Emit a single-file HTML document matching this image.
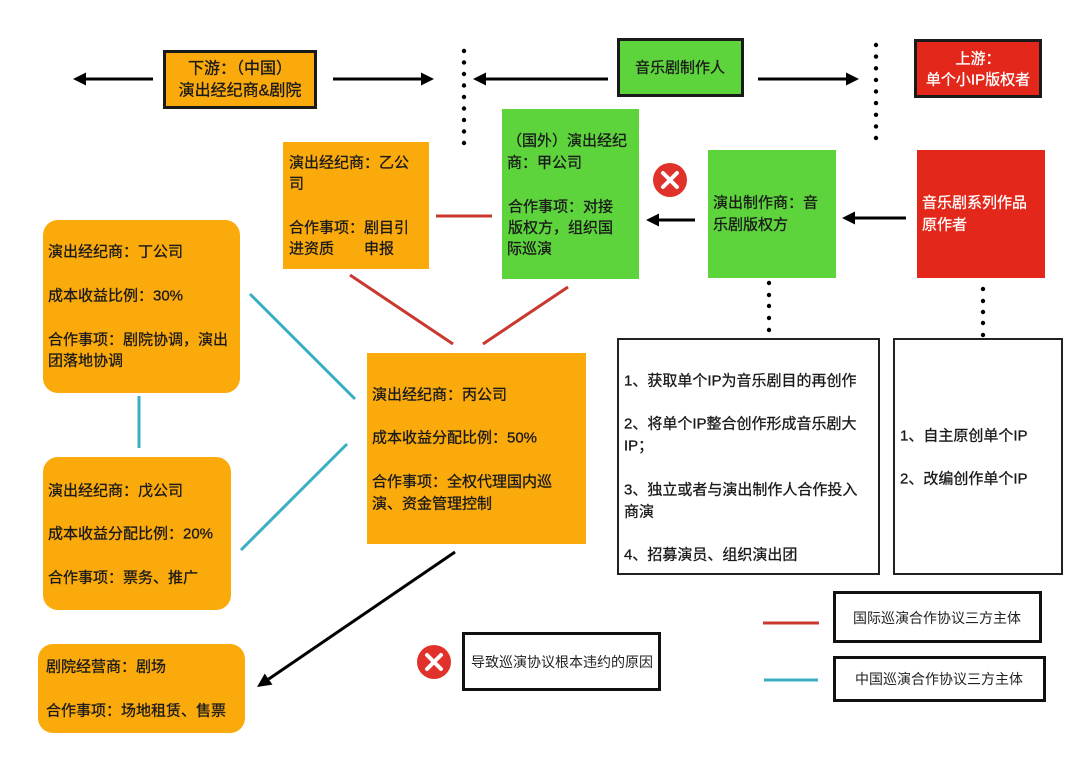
<!DOCTYPE html>
<html><head><meta charset="utf-8"><style>
html,body{margin:0;padding:0;background:#fff;}
svg{display:block;}
text{font-family:"Liberation Sans","Noto Sans CJK SC",sans-serif;font-size:15px;fill:#1a1a1a;stroke:#1a1a1a;stroke-width:0.3px;dominant-baseline:central;}
.w{fill:#fff;stroke:#fff;}
.s{font-size:14px;fill:#222;stroke:none;}
</style></head><body>
<svg width="1080" height="763" viewBox="0 0 1080 763" xmlns="http://www.w3.org/2000/svg">
<rect width="1080" height="763" fill="#fff"/>

<!-- top row boxes -->
<rect x="164.5" y="51.5" width="151" height="56" fill="#FBAA0C" stroke="#1a1a1a" stroke-width="3"/>
<text x="240" y="69" text-anchor="middle" style="font-size:16px">下游：（中国）</text>
<text x="240" y="91" text-anchor="middle" style="font-size:16px">演出经纪商&amp;剧院</text>

<rect x="618.5" y="39.5" width="124" height="56" fill="#5DD43C" stroke="#1a1a1a" stroke-width="3"/>
<text x="680" y="68" text-anchor="middle">音乐剧制作人</text>

<rect x="915.5" y="40.5" width="125" height="56" fill="#E3281B" stroke="#1a1a1a" stroke-width="3"/>
<text x="978" y="59" text-anchor="middle" class="w">上游：</text>
<text x="978" y="80" text-anchor="middle" class="w">单个小IP版权者</text>

<!-- arrows -->
<g stroke="#000" stroke-width="3">
<line x1="153" y1="79" x2="82" y2="79"/>
<line x1="333" y1="79" x2="424" y2="79"/>
<line x1="608" y1="79" x2="483" y2="79"/>
<line x1="758" y1="79" x2="849" y2="79"/>
<line x1="695" y1="220" x2="656" y2="220"/>
<line x1="906" y1="218" x2="852" y2="218"/>
<line x1="455" y1="552" x2="268.6" y2="679.1"/>
</g>
<g fill="#000">
<polygon points="73,79 86,72.5 86,85.5"/>
<polygon points="434,79 421,72.5 421,85.5"/>
<polygon points="473,79 486,72.5 486,85.5"/>
<polygon points="859,79 846,72.5 846,85.5"/>
<polygon points="646,220 659,213.5 659,226.5"/>
<polygon points="842,218 855,211.5 855,224.5"/>
<polygon points="257,687 272.5,684.6 264.7,673.6"/>
</g>

<!-- dotted separators -->
<g fill="#000">
<circle cx="464" cy="51" r="2.2"/><circle cx="464" cy="62.5" r="2.2"/><circle cx="464" cy="74" r="2.2"/><circle cx="464" cy="85.5" r="2.2"/><circle cx="464" cy="97" r="2.2"/><circle cx="464" cy="108.5" r="2.2"/><circle cx="464" cy="120" r="2.2"/><circle cx="464" cy="131.5" r="2.2"/><circle cx="464" cy="143" r="2.2"/>
<circle cx="876" cy="45" r="2.2"/><circle cx="876" cy="56.6" r="2.2"/><circle cx="876" cy="68.3" r="2.2"/><circle cx="876" cy="79.9" r="2.2"/><circle cx="876" cy="91.5" r="2.2"/><circle cx="876" cy="103.1" r="2.2"/><circle cx="876" cy="114.8" r="2.2"/><circle cx="876" cy="126.4" r="2.2"/><circle cx="876" cy="138" r="2.2"/>
<circle cx="769" cy="283" r="2.2"/><circle cx="769" cy="295" r="2.2"/><circle cx="769" cy="306" r="2.2"/><circle cx="769" cy="318" r="2.2"/><circle cx="769" cy="330" r="2.2"/>
<circle cx="983" cy="289" r="2.2"/><circle cx="983" cy="301" r="2.2"/><circle cx="983" cy="312" r="2.2"/><circle cx="983" cy="323" r="2.2"/><circle cx="983" cy="335" r="2.2"/>
</g>

<!-- second row boxes -->
<rect x="283" y="142" width="146" height="127" fill="#FBAA0C"/>
<text x="289" y="163">演出经纪商：乙公</text>
<text x="289" y="184">司</text>
<text x="289" y="228">合作事项：剧目引</text>
<text x="289" y="249">进资质　　申报</text>

<rect x="502" y="109" width="137" height="170" fill="#5DD43C"/>
<text x="507" y="141">（国外）演出经纪</text>
<text x="507" y="163">商：甲公司</text>
<text x="508" y="207">合作事项：对接</text>
<text x="508" y="228">版权方，组织国</text>
<text x="507" y="249">际巡演</text>

<rect x="708" y="150" width="128" height="128" fill="#5DD43C"/>
<text x="713" y="203">演出制作商：音</text>
<text x="713" y="225">乐剧版权方</text>

<rect x="917" y="150" width="128" height="128" fill="#E3281B"/>
<text x="922" y="203" class="w">音乐剧系列作品</text>
<text x="922" y="225" class="w">原作者</text>

<!-- red X top -->
<circle cx="670" cy="180" r="17" fill="#E0312A"/>
<g stroke="#fff" stroke-width="4" stroke-linecap="round">
<line x1="663" y1="173" x2="677" y2="187"/><line x1="677" y1="173" x2="663" y2="187"/>
</g>

<!-- red connector lines -->
<g stroke="#C9382E" stroke-width="3">
<line x1="436" y1="216" x2="492" y2="216"/>
<line x1="350" y1="275" x2="453" y2="344"/>
<line x1="568" y1="287" x2="483" y2="344"/>
<line x1="763" y1="623" x2="819" y2="623"/>
</g>
<!-- blue connector lines -->
<g stroke="#3AAFC4" stroke-width="3">
<line x1="250" y1="294" x2="355" y2="399"/>
<line x1="139" y1="396" x2="139" y2="448"/>
<line x1="241" y1="550" x2="347" y2="444"/>
<line x1="764" y1="680" x2="818" y2="680"/>
</g>

<!-- left rounded boxes -->
<rect x="43" y="220" width="197" height="173" rx="15" fill="#FBAA0C"/>
<text x="48" y="252">演出经纪商：丁公司</text>
<text x="48" y="296">成本收益比例：30%</text>
<text x="48" y="340">合作事项：剧院协调，演出</text>
<text x="48" y="361">团落地协调</text>

<rect x="43" y="457" width="188" height="153" rx="15" fill="#FBAA0C"/>
<text x="48" y="491">演出经纪商：戊公司</text>
<text x="48" y="534">成本收益分配比例：20%</text>
<text x="48" y="578">合作事项：票务、推广</text>

<rect x="38" y="644" width="207" height="89" rx="15" fill="#FBAA0C"/>
<text x="46" y="667">剧院经营商：剧场</text>
<text x="46" y="711">合作事项：场地租赁、售票</text>

<!-- 丙 -->
<rect x="367" y="353" width="219" height="191" fill="#FBAA0C"/>
<text x="372" y="395">演出经纪商：丙公司</text>
<text x="372" y="438">成本收益分配比例：50%</text>
<text x="372" y="482">合作事项：全权代理国内巡</text>
<text x="372" y="504">演、资金管理控制</text>

<!-- white boxes -->
<rect x="618" y="339" width="261" height="235" fill="#fff" stroke="#222" stroke-width="2"/>
<text x="624" y="381">1、获取单个IP为音乐剧目的再创作</text>
<text x="624" y="424">2、将单个IP整合创作形成音乐剧大</text>
<text x="624" y="446">IP；</text>
<text x="624" y="490">3、独立或者与演出制作人合作投入</text>
<text x="624" y="512">商演</text>
<text x="624" y="555">4、招募演员、组织演出团</text>

<rect x="894" y="339" width="168" height="235" fill="#fff" stroke="#222" stroke-width="2"/>
<text x="900" y="436">1、自主原创单个IP</text>
<text x="900" y="479">2、改编创作单个IP</text>

<!-- bottom legend -->
<circle cx="434" cy="662" r="17" fill="#E0312A"/>
<g stroke="#fff" stroke-width="4" stroke-linecap="round">
<line x1="427" y1="655" x2="441" y2="669"/><line x1="441" y1="655" x2="427" y2="669"/>
</g>
<rect x="463.5" y="633.5" width="196" height="56" fill="#fff" stroke="#111" stroke-width="3"/>
<text x="471" y="662" class="s">导致巡演协议根本违约的原因</text>

<rect x="834.5" y="592.5" width="206" height="49" fill="#fff" stroke="#111" stroke-width="3"/>
<text x="937" y="618" text-anchor="middle" class="s">国际巡演合作协议三方主体</text>

<rect x="834.5" y="657.5" width="210" height="43" fill="#fff" stroke="#111" stroke-width="3"/>
<text x="939" y="679" text-anchor="middle" class="s">中国巡演合作协议三方主体</text>
</svg>
</body></html>
